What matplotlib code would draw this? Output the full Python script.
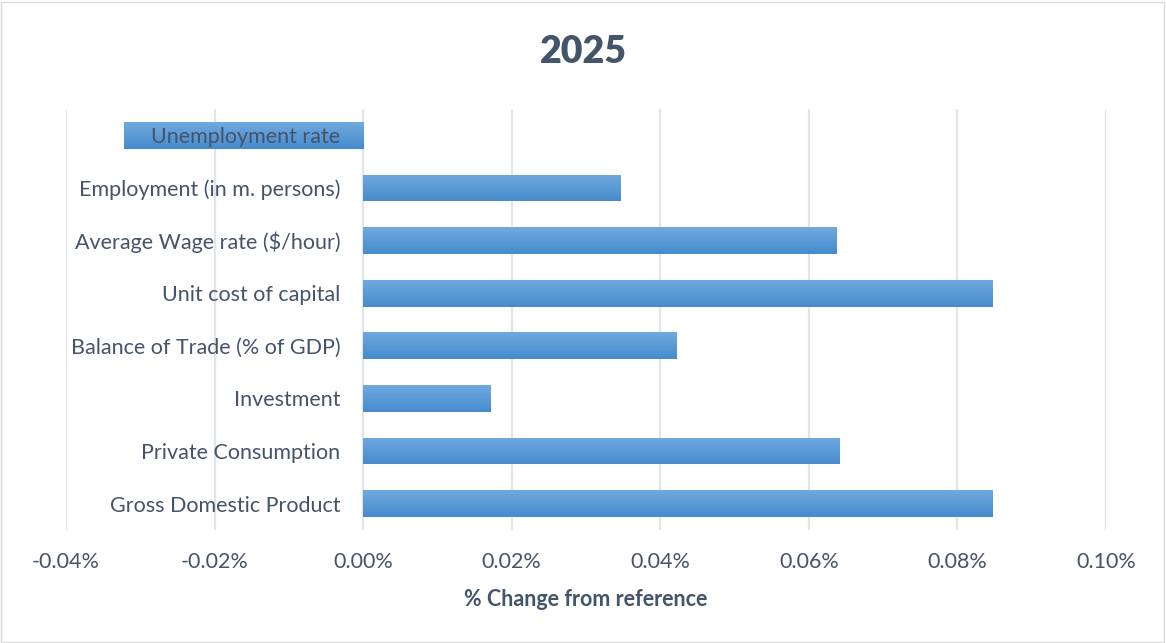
import numpy as np
import matplotlib
matplotlib.use("Agg")
import matplotlib.pyplot as plt
from matplotlib.patches import Rectangle
from matplotlib.ticker import FuncFormatter

# indicators, bottom to top, and % change from reference for 2025
categories = [
    "Gross Domestic Product",
    "Private Consumption",
    "Investment",
    "Balance of Trade (% of GDP)",
    "Unit cost of capital",
    "Average Wage rate ($/hour)",
    "Employment (in m. persons)",
    "Unemployment rate",
]
values = [0.0848, 0.0641, 0.0171, 0.0422, 0.0847, 0.0638, 0.0346, -0.0322]
x_ticks = [-0.04, -0.02, 0.0, 0.02, 0.04, 0.06, 0.08, 0.10]

text_color = "#44546A"
grid_color = "#E1E5EB"
plt.rcParams["font.family"] = ["Lato", "DejaVu Sans"]

fig = plt.figure(figsize=(11.66, 6.43), dpi=100)
ax = fig.add_axes([66 / 1166, 1 - 530 / 643, (1106 - 66) / 1166, (530 - 109) / 643])

y = np.arange(len(categories))
bars = ax.barh(y, values, height=0.51, color="#5B9BD5", zorder=1)

# vertical gradient on each bar, lighter at the top
grad = np.linspace(0, 1, 64).reshape(-1, 1)
cmap = matplotlib.colors.LinearSegmentedColormap.from_list(
    "bar", ["#468BCD", "#70A9DE"])
for b in bars:
    x0, y0 = b.get_x(), b.get_y()
    w, h = b.get_width(), b.get_height()
    im = ax.imshow(grad, cmap=cmap, origin="lower", aspect="auto",
                   extent=[x0, x0 + w, y0, y0 + h], zorder=1.2)
    im.set_clip_path(b)

ax.set_xlim(-0.04, 0.10)
ax.set_ylim(-0.5, len(categories) - 0.5)

ax.set_xticks(x_ticks)
ax.xaxis.set_major_formatter(FuncFormatter(lambda v, p: f"{v:.2f}%"))
ax.grid(axis="x", color=grid_color, linewidth=1.6)
ax.set_axisbelow(True)

# category labels sit next to the zero line, drawn over the bars
ax.spines["left"].set_position(("data", 0))
ax.set_yticks(y)
ax.set_yticklabels(categories)
ax.yaxis.set_zorder(5)
ax.tick_params(axis="y", length=0, pad=16.5, labelsize=15.5, labelcolor=text_color)
ax.tick_params(axis="x", length=0, pad=16, labelsize=15.5, labelcolor=text_color)
for s in ax.spines.values():
    s.set_visible(False)

ax.set_xlabel("% Change from reference", fontsize=15.5, fontweight="bold",
              color=text_color, labelpad=12)
fig.text(0.5, 1 - 52 / 643, "2025", ha="center", va="center",
         fontsize=27, fontweight="heavy", color=text_color)

fig.patches.append(Rectangle((0.001, 0.002), 0.997, 0.995, transform=fig.transFigure,
                             fill=False, edgecolor="#D9D9D9", linewidth=1))

fig.savefig("out.png", dpi=100, facecolor="white")
